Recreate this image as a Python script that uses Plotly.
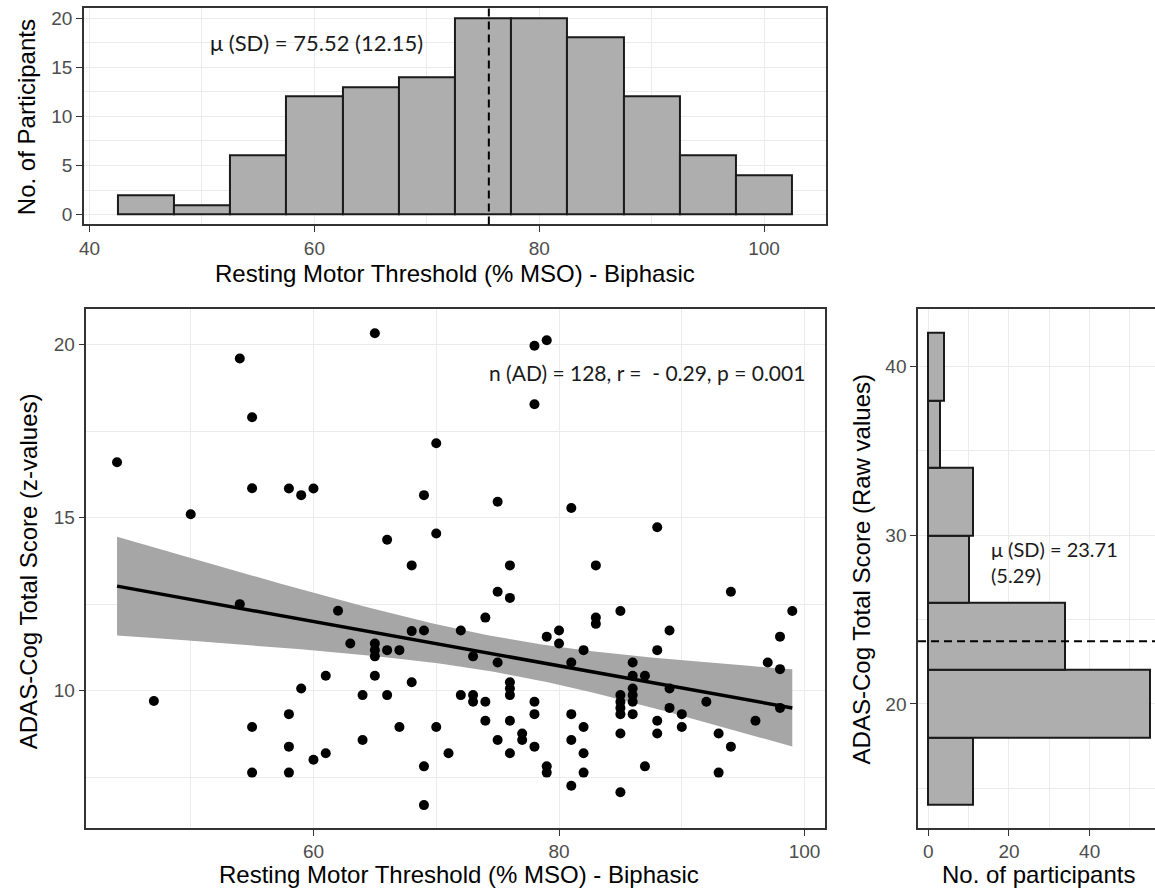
import numpy as np
import plotly.graph_objects as go

# ---------------- data ----------------
rmt_bin_centers = [45, 50, 55, 60, 65, 70, 75, 80, 85, 90, 95, 100]
rmt_counts = [2, 1, 6, 12, 13, 14, 20, 20, 18, 12, 6, 4]
rmt_mean = 75.52

adas_bin_centers = [16, 20, 24, 28, 32, 36, 40]
adas_counts = [11, 55, 34, 10, 11, 3, 4]
adas_mean = 23.71

scatter_rmt = [
    44, 47, 50, 54, 54, 55, 55, 55, 55, 58, 58, 58, 58, 59, 59, 60, 60, 61, 61, 62,
    63, 64, 64, 65, 65, 65, 65, 65, 66, 66, 66, 67, 67, 68, 68, 68, 69, 69, 69, 69,
    70, 70, 70, 71, 72, 72, 73, 73, 73, 74, 74, 74, 75, 75, 75, 75,
    76, 76, 76, 76, 76, 76, 76, 77, 77, 78, 78, 78, 78, 78, 79, 79, 79, 79,
    80, 80, 81, 81, 81, 81, 81, 82, 82, 82, 82, 83, 83, 83,
    85, 85, 85, 85, 85, 85, 85, 86, 86, 86, 86, 86, 86, 87, 87,
    88, 88, 88, 88, 89, 89, 89, 90, 90, 92, 93, 93, 94, 94, 96, 97, 98, 98, 98, 99,
]
scatter_adas = [
    16.6, 9.7, 15.1, 19.6, 12.5, 17.9, 15.85, 8.95, 7.63, 15.84, 9.32, 8.38, 7.63, 15.65, 10.06, 15.84, 8.0, 10.43, 8.19, 12.31,
    11.36, 9.87, 8.57, 20.33, 11.36, 11.17, 10.99, 10.43, 14.36, 11.17, 9.87, 11.17, 8.95, 13.62, 11.72, 10.24, 15.65, 11.74, 7.81, 6.69,
    17.15, 14.54, 8.95, 8.19, 11.74, 9.87, 10.99, 9.87, 9.68, 12.11, 9.68, 9.13, 15.46, 12.86, 10.81, 8.57,
    13.62, 12.68, 10.24, 10.06, 9.87, 9.13, 8.19, 8.76, 8.57, 19.97, 18.28, 9.68, 9.32, 8.38, 20.13, 11.56, 7.81, 7.63,
    11.74, 11.36, 15.28, 10.81, 9.32, 8.57, 7.25, 11.17, 8.95, 8.19, 7.63, 13.62, 12.11, 11.93,
    12.30, 9.87, 9.68, 9.50, 9.32, 8.76, 7.06, 10.81, 10.43, 10.06, 9.87, 9.68, 9.32, 10.43, 7.81,
    14.72, 11.17, 9.13, 8.76, 11.74, 10.06, 9.50, 9.32, 8.95, 9.68, 8.76, 7.63, 12.86, 8.38, 9.13, 10.81, 11.56, 10.62, 9.50, 12.30,
]

# ---------------- linear fit with 95% CI ----------------
x = np.array(scatter_rmt, float)
y = np.array(scatter_adas, float)
slope, intercept = np.polyfit(x, y, 1)
n = len(x)
xbar = x.mean()
resid = y - (intercept + slope * x)
s = np.sqrt((resid ** 2).sum() / (n - 2))
sxx = ((x - xbar) ** 2).sum()
xs = np.linspace(x.min(), x.max(), 100)
yhat = intercept + slope * xs
se = s * np.sqrt(1.0 / n + (xs - xbar) ** 2 / sxx)
tcrit = 1.98
upper = yhat + tcrit * se
lower = yhat - tcrit * se

# ---------------- style ----------------
W, H = 1155, 892
TITLE_FONT = dict(family="Liberation Sans, Arial, sans-serif", size=24, color="black")
TICK_FONT = dict(family="Liberation Sans, Arial, sans-serif", size=19, color="#4D4D4D")
NOTE_FAMILY = "Lato, Open Sans, sans-serif"
GRID = "#EBEBEB"
BORDER = "#333333"
BAR_FILL = "#AEAEAE"


def px_x(p):
    return p / W


def px_y(p):
    return (H - p) / H


fig = go.Figure()

# top histogram
fig.add_trace(go.Bar(
    x=rmt_bin_centers, y=rmt_counts, width=5,
    marker=dict(color=BAR_FILL, line=dict(color="#1A1A1A", width=2)),
    xaxis="x", yaxis="y", showlegend=False,
))

# scatter: CI band, points, fit line
fig.add_trace(go.Scatter(
    x=np.concatenate([xs, xs[::-1]]), y=np.concatenate([upper, lower[::-1]]),
    fill="toself", fillcolor="#A6A6A6", line=dict(width=0), mode="lines",
    xaxis="x2", yaxis="y2", showlegend=False, hoverinfo="skip",
))
fig.add_trace(go.Scatter(
    x=scatter_rmt, y=scatter_adas, mode="markers",
    marker=dict(color="black", size=10),
    xaxis="x2", yaxis="y2", showlegend=False,
))
fig.add_trace(go.Scatter(
    x=xs, y=yhat, mode="lines", line=dict(color="black", width=3.5),
    xaxis="x2", yaxis="y2", showlegend=False,
))

# right histogram (horizontal)
fig.add_trace(go.Bar(
    y=adas_bin_centers, x=adas_counts, width=4, orientation="h",
    marker=dict(color=BAR_FILL, line=dict(color="#1A1A1A", width=2)),
    xaxis="x3", yaxis="y3", showlegend=False,
))


def axis(domain, rng, tickvals, minor_vals, anchor, mirror=True):
    return dict(
        domain=domain, range=rng, tickvals=tickvals, anchor=anchor,
        showgrid=True, gridcolor=GRID, gridwidth=1.3, zeroline=False,
        showline=True, linecolor=BORDER, linewidth=1.5, mirror=mirror,
        ticks="outside", ticklen=6, tickwidth=1.2, tickcolor=BORDER,
        tickfont=TICK_FONT,
        minor=dict(tickvals=minor_vals, showgrid=True, gridcolor=GRID, gridwidth=0.8, ticks=""),
    )


fig.update_layout(
    width=W, height=H,
    margin=dict(l=0, r=0, t=0, b=0),
    paper_bgcolor="white", plot_bgcolor="white",
    bargap=0,
    xaxis=axis([px_x(79.3), px_x(824.4)], [39.5, 105.5], [40, 60, 80, 100], [50, 70, 90], "y"),
    yaxis=axis([px_y(224), px_y(7.3)], [-1, 21], [0, 5, 10, 15, 20], [2.5, 7.5, 12.5, 17.5], "x"),
    xaxis2=axis([px_x(81.7), px_x(824)], [41.5, 101.7], [60, 80, 100], [50, 70, 90], "y2"),
    yaxis2=axis([px_y(828.8), px_y(308.4)], [6.03, 21.04], [10, 15, 20], [7.5, 12.5, 17.5], "x2"),
    xaxis3=axis([px_x(917), 1.0], [-2.55, 56.2], [0, 20, 40], [10, 30, 50], "y3"),
    yaxis3=axis([px_y(828.8), px_y(308.4)], [12.64, 43.44], [20, 30, 40], [15, 25, 35], "x3", mirror=False),
)

# mean lines
fig.add_shape(type="line", xref="x", yref="y domain", x0=rmt_mean, x1=rmt_mean, y0=0, y1=1,
              line=dict(color="black", width=2, dash="8px,5px"))
fig.add_shape(type="line", xref="x3 domain", yref="y3", x0=0, x1=1, y0=adas_mean, y1=adas_mean,
              line=dict(color="black", width=2, dash="8px,5px"))

# text annotations
fig.add_annotation(x=50.5, y=17.55, xref="x", yref="y", text="\u03bc (SD) = 75.52 (12.15)",
                   showarrow=False, xanchor="left", yanchor="middle",
                   font=dict(family=NOTE_FAMILY, size=22, color="#1A1A1A"))
fig.add_annotation(x=100.2, y=19.19, xref="x2", yref="y2", text="n (AD) = 128, r =  - 0.29, p = 0.001",
                   showarrow=False, xanchor="right", yanchor="middle",
                   font=dict(family=NOTE_FAMILY, size=21, color="#1A1A1A"))
fig.add_annotation(x=15.0, y=28.4, xref="x3", yref="y3", text="\u03bc (SD) = 23.71<br>(5.29)",
                   showarrow=False, xanchor="left", yanchor="middle", align="left",
                   font=dict(family=NOTE_FAMILY, size=20, color="#1A1A1A"))

# axis titles
fig.add_annotation(x=px_x(451.8), y=px_y(273), xref="paper", yref="paper",
                   text="Resting Motor Threshold (% MSO) - Biphasic", showarrow=False,
                   xanchor="center", yanchor="middle", font=TITLE_FONT)
fig.add_annotation(x=px_x(21), y=px_y(116.5), xref="paper", yref="paper",
                   text="No. of Participants", showarrow=False, textangle=-90,
                   xanchor="center", yanchor="middle", font=TITLE_FONT)
fig.add_annotation(x=px_x(455.8), y=px_y(875), xref="paper", yref="paper",
                   text="Resting Motor Threshold (% MSO) - Biphasic", showarrow=False,
                   xanchor="center", yanchor="middle", font=TITLE_FONT)
fig.add_annotation(x=px_x(23.3), y=px_y(571.3), xref="paper", yref="paper",
                   text="ADAS-Cog Total Score (z-values)", showarrow=False, textangle=-90,
                   xanchor="center", yanchor="middle", font=TITLE_FONT)
fig.add_annotation(x=px_x(1037.5), y=px_y(875), xref="paper", yref="paper",
                   text="No. of participants", showarrow=False,
                   xanchor="center", yanchor="middle", font=TITLE_FONT)
fig.add_annotation(x=px_x(860), y=px_y(569.4), xref="paper", yref="paper",
                   text="ADAS-Cog Total Score (Raw values)", showarrow=False, textangle=-90,
                   xanchor="center", yanchor="middle", font=TITLE_FONT)

fig.write_html("out.html")
